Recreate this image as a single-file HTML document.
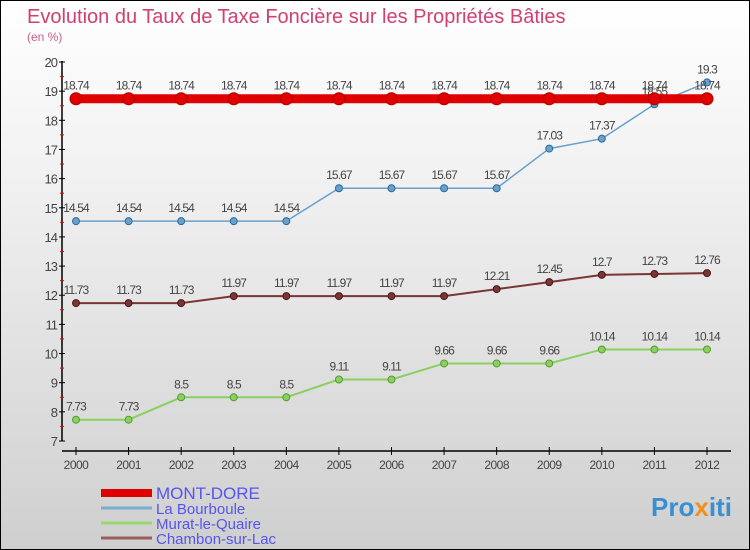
<!DOCTYPE html>
<html><head><meta charset="utf-8"><style>
body{margin:0}
#c{width:750px;height:550px;position:relative;overflow:hidden;box-sizing:border-box;border:1px solid #000;background:linear-gradient(#fff,#f2f2f2 30%,#cfcfcf);font-family:"Liberation Sans",sans-serif}
</style></head><body>
<div id="c">
<svg id="s" width="750" height="550" style="position:absolute;left:0;top:0">
<text x="26" y="22" font-size="20" fill="#d04070">Evolution du Taux de Taxe Foncière sur les Propriétés Bâties</text>
<text x="26" y="40" font-size="12" fill="#c8608e">(en %)</text>
<g id="g"></g>
<text x="650" y="515" font-size="26" font-weight="bold" fill="#3a8fd0">Pro<tspan fill="#f09020">x</tspan>iti</text>
</svg>
</div>
<script>
const years=[2000,2001,2002,2003,2004,2005,2006,2007,2008,2009,2010,2011,2012];
const yTicks=[7,8,9,10,11,12,13,14,15,16,17,18,19,20];
const montDore=[18.74,18.74,18.74,18.74,18.74,18.74,18.74,18.74,18.74,18.74,18.74,18.74,18.74];
const bourboule=[14.54,14.54,14.54,14.54,14.54,15.67,15.67,15.67,15.67,17.03,17.37,18.55,19.3];
const murat=[7.73,7.73,8.5,8.5,8.5,9.11,9.11,9.66,9.66,9.66,10.14,10.14,10.14];
const chambon=[11.73,11.73,11.73,11.97,11.97,11.97,11.97,11.97,12.21,12.45,12.7,12.73,12.76];
const X=i=>75+i*(706-75)/12;
const Y=v=>440-(v-7)*(440-61)/13;
const ns="http://www.w3.org/2000/svg",g=document.getElementById('g');
function el(t,a,n){const e=document.createElementNS(ns,t);for(const k in a)e.setAttribute(k,a[k]);


g.appendChild(e);return e;}
el('line',{x1:61,y1:60,x2:61,y2:440,stroke:'#000','stroke-width':1.5},'y-axis');
el('line',{x1:61,y1:450,x2:730,y2:450,stroke:'#000','stroke-width':1.5},'x-axis');
yTicks.forEach(v=>{el('line',{x1:58,y1:Y(v),x2:64,y2:Y(v),stroke:'#000'},'y-tick');
if(v<20)el('line',{x1:59,y1:Y(v+0.5),x2:63,y2:Y(v+0.5),stroke:'#e00'},'y-minor-tick');
const t=el('text',{x:56,y:Y(v)+5,'font-size':13,fill:'#444','text-anchor':'end','letter-spacing':'-1'},'y-tick-label');t.textContent=v;});
years.forEach((y,i)=>{el('line',{x1:X(i),y1:446,x2:X(i),y2:454,stroke:'#000'},'x-tick');
const t=el('text',{x:X(i),y:468,'font-size':12,fill:'#444','text-anchor':'middle','letter-spacing':'-0.5'},'x-tick-label');t.textContent=y;});
function series(d,col,w,r,name,dark){
el('polyline',{points:d.map((v,i)=>X(i)+','+Y(v)).join(' '),fill:'none',stroke:col,'stroke-width':w},name+'-line');
d.forEach((v,i)=>{el('circle',{cx:X(i),cy:Y(v),r:r,fill:col,stroke:dark,'stroke-width':1},name+'-point');
const t=el('text',{x:X(i),y:Y(v)-9,'font-size':12,fill:'#444','text-anchor':'middle','letter-spacing':'-0.9'},name+'-value');t.textContent=v;});}
series(chambon,'#7a3535',2,3.5,'chambon','#4a1515');
series(murat,'#88d060',2,3.5,'murat','#5a9a30');
series(bourboule,'#6aa0cc',1.5,3.5,'bourboule','#2a6a9a');
series(montDore,'#e00000',9,6,'mont-dore','#b00000');
const leg=[['MONT-DORE','#e00000',8],['La Bourboule','#7aaed0',3],['Murat-le-Quaire','#98d870',3],['Chambon-sur-Lac','#9a6060',3]];
leg.forEach((l,i)=>{const y=492+i*15;
el('line',{x1:100,y1:y,x2:151,y2:y,stroke:l[1],'stroke-width':l[2]},'legend-swatch');
const t=el('text',{x:155,y:y+6,'font-size':i?15:17,fill:'#5555ee'},'legend-entry');t.textContent=l[0];});
</script>
</body></html>
